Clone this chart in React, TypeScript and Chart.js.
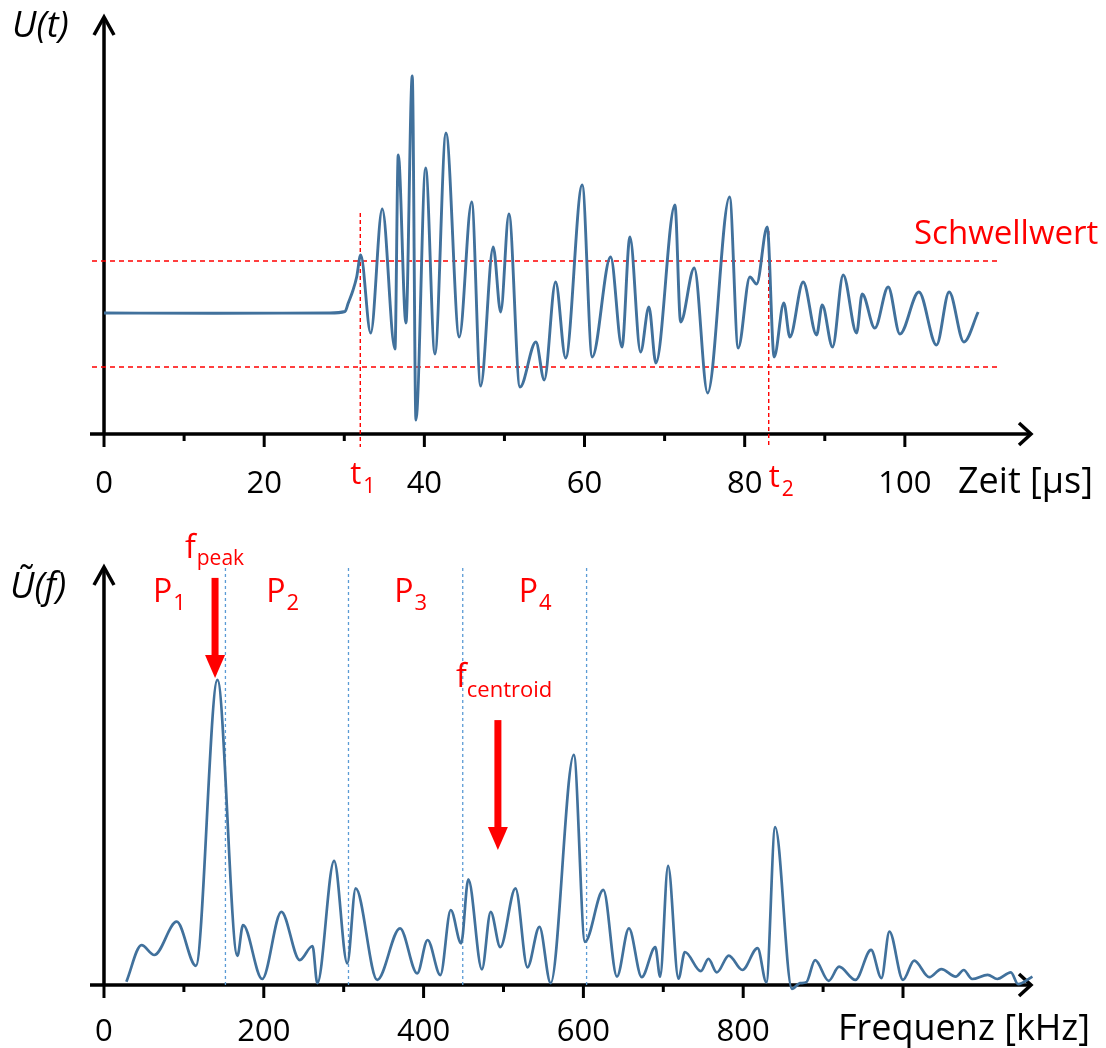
import { useEffect, useRef } from 'react';
import { Chart, registerables } from 'chart.js';

Chart.register(...registerables);

const FONT = '"Open Sans", "Noto Sans", "DejaVu Sans", sans-serif';
const BLUE = '#41719C';
const RED = '#FF0000';
const LIGHT_BLUE = '#5B9BD5';

// ---------- Top panel: time signal U(t) ----------
const timeUs = [
  0, 14, 28.2, 30.09, 30.5, 31.1, 31.55,
  32.05, 33.3, 34.74, 36.33, 36.74, 37.7, 38.49, 38.95,
  40.16, 41.32, 42.7, 44.36, 45.91, 47.03, 48.6, 49.53,
  50.56, 51.94, 53.93, 54.97, 56.39, 57.64, 59.71, 60.96,
  63.26, 64.67, 65.67, 67.0, 68.04, 68.91, 71.29, 72.0,
  73.7, 75.37, 78.11, 79.19, 80.65, 81.49, 82.81, 83.68,
  84.89, 85.64, 87.3, 88.98, 89.68, 90.97, 92.3, 93.97,
  94.67, 96.25, 97.92, 99.38, 101.75, 103.95, 105.53, 107.37, 109.15,
];
const signalU = [
  0.1, 0.08, 0.1, 0.25, 1.1, 2.4, 3.7,
  5.9, -1.9, 10.5, -3.5, 15.9, -0.9, 23.8, -10.6,
  14.6, -4.0, 18.1, -2.3, 11.2, -7.2, 6.7, 0.2,
  10.0, -7.3, -2.8, -6.6, 3.2, -4.4, 12.9, -4.3,
  5.7, -3.3, 7.7, -3.8, 0.7, -4.9, 10.9, -0.8,
  4.6, -7.9, 11.7, -3.4, 3.7, 3.0, 8.7, -4.3,
  1.1, -2.3, 3.2, -2.1, 0.9, -3.3, 3.9, -1.9,
  2.0, -1.4, 2.7, -2.0, 2.2, -3.1, 2.2, -2.8, 0.2,
];
const thresholdU = 5.3;
const thresholdSpanUs = [-1.5, 111.6];
const markerTimesUs = [32, 83];          // t1, t2
const markerTopsU = [10.1, 8.3];
const markerBottomU = -13.3;
const markerNames = ['1', '2'];
const timeMajorTicks = [0, 20, 40, 60, 80, 100];
const timeMinorTicks = [10, 30, 50, 70, 90];
const timeRange = [-1.75, 116.0];
const signalRange = [-12, 29.9];

// ---------- Bottom panel: spectrum Ũ(f) ----------
const freqKHz = [
  28, 47, 63, 91, 115, 142, 167, 174, 198, 222,
  245, 261, 267, 288, 304.5, 315, 342, 370.5, 392, 405,
  421, 434, 447, 456, 473, 484, 496, 515, 530, 545,
  559, 588, 602, 625, 642, 657, 673, 690, 696, 706,
  719, 727, 747, 756.5, 767, 782, 799, 818, 829, 840,
  861, 871, 879, 890, 907, 920, 940.5, 960, 973, 983,
  1000, 1014, 1033, 1048, 1066, 1076, 1086.5, 1106, 1118, 1135,
  1144, 1162,
];
const spectrumU = [
  1.1, 13.3, 10, 21.1, 6.4, 101.7, 9.7, 20, 2, 24.4,
  8.3, 13, 0.6, 41.4, 7.2, 32.2, 1.7, 18.9, 3.9, 15,
  3.3, 25, 13.9, 35.2, 5.2, 24.4, 12.6, 32.2, 5.9, 19.4,
  0.6, 76.7, 14.4, 31.7, 2.8, 18.9, 2.6, 12.6, 2.8, 39.7,
  2.1, 11, 4.6, 8.7, 4.2, 9.8, 5, 12.3, 0.9, 52.6,
  -1.3, 0.6, 0.9, 8.3, 1.4, 6.1, 1.7, 11.7, 2.3, 17.8,
  1.7, 8.1, 2.6, 5.3, 2.8, 5, 2, 3.4, 2, 4.2,
  0.3, 2.8,
];
const bandEdgesKHz = [152, 306, 449, 604];
const bandEdgeTopU = 139;
const bandLabelKHz = [80, 222, 382, 538];
const bandNames = ['1', '2', '3', '4'];
const peakArrow = { f: 139, from: 135.7, to: 102.3 };
const centroidArrow = { f: 493, from: 88.3, to: 45 };
const freqMajorTicks = [0, 200, 400, 600, 800, 1000];
const freqTickLabels = ['0', '200', '400', '600', '800', ''];
const freqMinorTicks = [100, 300, 500, 700, 900];
const freqRange = [-17.5, 1162.7];
const spectrumRange = [0, 140];

const W = 1106;

function pts(xs: number[], ys: number[]) {
  return xs.map((x, i) => ({ x, y: ys[i] }));
}

function lineDs(data: any[], color: string, width: number, dash: number[] = [], extra: any = {}) {
  return {
    data,
    borderColor: color,
    backgroundColor: color,
    borderWidth: width,
    borderDash: dash,
    pointRadius: 0,
    pointHoverRadius: 0,
    fill: false,
    clip: false,
    tension: 0,
    ...extra,
  };
}

function textSub(
  ctx: CanvasRenderingContext2D, main: string, sub: string, x: number, y: number,
  mainPx: number, subPx: number, drop: number, gap: number, color: string,
) {
  ctx.save();
  ctx.fillStyle = color;
  ctx.textAlign = 'left';
  ctx.textBaseline = 'alphabetic';
  ctx.font = `${mainPx}px ${FONT}`;
  ctx.fillText(main, x, y);
  const w = ctx.measureText(main).width;
  ctx.font = `${subPx}px ${FONT}`;
  ctx.fillText(sub, x + w + gap, y + drop);
  ctx.restore();
}

function drawAxes(chart: any, major: number[], labels: string[], minor: number[], labelDrop: number) {
  const { ctx, chartArea: a, scales } = chart;
  const sx = scales.x;
  const x0 = sx.getPixelForValue(0);
  const yb = a.bottom;
  ctx.save();
  ctx.strokeStyle = '#000';
  ctx.fillStyle = '#000';
  ctx.lineWidth = 3.5;
  ctx.lineCap = 'butt';
  ctx.lineJoin = 'miter';
  // y axis
  ctx.beginPath();
  ctx.moveTo(x0, yb);
  ctx.lineTo(x0, a.top + 2);
  ctx.stroke();
  ctx.beginPath();
  ctx.moveTo(x0 - 10, a.top + 20);
  ctx.lineTo(x0, a.top + 2);
  ctx.lineTo(x0 + 10, a.top + 20);
  ctx.stroke();
  // x axis
  ctx.beginPath();
  ctx.moveTo(a.left, yb);
  ctx.lineTo(a.right - 2, yb);
  ctx.stroke();
  ctx.beginPath();
  ctx.moveTo(a.right - 14, yb - 11);
  ctx.lineTo(a.right - 2, yb);
  ctx.lineTo(a.right - 14, yb + 11);
  ctx.stroke();
  // ticks
  ctx.lineWidth = 3;
  major.forEach((v) => {
    const px = sx.getPixelForValue(v);
    ctx.beginPath();
    ctx.moveTo(px, yb);
    ctx.lineTo(px, yb + 13);
    ctx.stroke();
  });
  minor.forEach((v) => {
    const px = sx.getPixelForValue(v);
    ctx.beginPath();
    ctx.moveTo(px, yb);
    ctx.lineTo(px, yb + 7);
    ctx.stroke();
  });
  // tick labels
  ctx.font = `31px ${FONT}`;
  ctx.textAlign = 'center';
  ctx.textBaseline = 'alphabetic';
  major.forEach((v, i) => {
    const t = labels[i];
    if (t) ctx.fillText(t, sx.getPixelForValue(v), yb + labelDrop);
  });
  ctx.restore();
}

function drawArrow(ctx: CanvasRenderingContext2D, x: number, yTop: number, yTip: number) {
  ctx.save();
  ctx.fillStyle = RED;
  ctx.fillRect(x - 3.5, yTop, 7, yTip - yTop - 20);
  ctx.beginPath();
  ctx.moveTo(x - 10, yTip - 23);
  ctx.lineTo(x + 10, yTip - 23);
  ctx.lineTo(x, yTip);
  ctx.closePath();
  ctx.fill();
  ctx.restore();
}

function buildTop(canvas: HTMLCanvasElement) {
  const datasets: any[] = [
    lineDs(pts(timeUs, signalU), BLUE, 2.9, [], { cubicInterpolationMode: 'monotone' }),
    lineDs(pts(thresholdSpanUs, [thresholdU, thresholdU]), RED, 1.4, [5, 4]),
    lineDs(pts(thresholdSpanUs, [-thresholdU, -thresholdU]), RED, 1.4, [5, 4]),
  ];
  markerTimesUs.forEach((t, i) => {
    datasets.push(lineDs(pts([t, t], [markerTopsU[i], markerBottomU]), RED, 1.4, [4, 3]));
  });
  const plugin = {
    id: 'topDecor',
    beforeDatasetsDraw(chart: any) {
      drawAxes(chart, timeMajorTicks, timeMajorTicks.map(String), timeMinorTicks, 59);
    },
    afterDatasetsDraw(chart: any) {
      const { ctx, chartArea: a, scales } = chart;
      ctx.save();
      ctx.fillStyle = '#000';
      ctx.textBaseline = 'alphabetic';
      ctx.textAlign = 'left';
      ctx.font = `36px ${FONT}`;
      ctx.fillText('Zeit [µs]', 958, a.bottom + 59);
      ctx.font = `italic 36px ${FONT}`;
      ctx.fillText('U(t)', 12, 37);
      ctx.fillStyle = RED;
      ctx.font = `33px ${FONT}`;
      ctx.fillText('Schwellwert', 914, 244);
      ctx.restore();
      markerTimesUs.forEach((t, i) => {
        const px = scales.x.getPixelForValue(t);
        const x = i === 0 ? px - 10 : px;
        textSub(ctx, 't', markerNames[i], x, a.bottom + 50 + i * 3, 31, 21, 9, 2, RED);
      });
    },
  };
  return new Chart(canvas, {
    type: 'line',
    data: { datasets },
    options: {
      responsive: false,
      animation: false,
      devicePixelRatio: 1,
      events: [],
      layout: { padding: { left: 90, right: W - 1033, top: 15, bottom: 520 - 434 } },
      plugins: { legend: { display: false }, tooltip: { enabled: false } },
      scales: {
        x: { type: 'linear', min: timeRange[0], max: timeRange[1], display: false },
        y: { type: 'linear', min: signalRange[0], max: signalRange[1], display: false },
      },
    },
    plugins: [plugin],
  } as any);
}

function buildBottom(canvas: HTMLCanvasElement) {
  const datasets: any[] = [
    lineDs(pts(freqKHz, spectrumU), BLUE, 2.7, [], { cubicInterpolationMode: 'monotone' }),
  ];
  bandEdgesKHz.forEach((f) => {
    datasets.push(lineDs(pts([f, f], [bandEdgeTopU, 0]), LIGHT_BLUE, 1.3, [3, 3]));
  });
  const plugin = {
    id: 'bottomDecor',
    beforeDatasetsDraw(chart: any) {
      drawAxes(chart, freqMajorTicks, freqTickLabels, freqMinorTicks, 56);
    },
    afterDatasetsDraw(chart: any) {
      const { ctx, chartArea: a, scales } = chart;
      const sx = scales.x;
      const sy = scales.y;
      ctx.save();
      ctx.fillStyle = '#000';
      ctx.textBaseline = 'alphabetic';
      ctx.textAlign = 'left';
      ctx.font = `36px ${FONT}`;
      ctx.fillText('Frequenz [kHz]', 838, a.bottom + 55);
      ctx.font = `italic 36px ${FONT}`;
      ctx.fillText('Ũ(f)', 10, 78);
      ctx.restore();
      bandLabelKHz.forEach((f, i) => {
        textSub(ctx, 'P', bandNames[i], sx.getPixelForValue(f) - 15, 82, 32, 22, 8, 1, RED);
      });
      textSub(ctx, 'f', 'peak', 185, 38, 32, 21, 7, 1, RED);
      textSub(ctx, 'f', 'centroid', 456, 167, 32, 22, 10, 0, RED);
      drawArrow(ctx, sx.getPixelForValue(peakArrow.f), sy.getPixelForValue(peakArrow.from), sy.getPixelForValue(peakArrow.to));
      drawArrow(ctx, sx.getPixelForValue(centroidArrow.f), sy.getPixelForValue(centroidArrow.from), sy.getPixelForValue(centroidArrow.to));
    },
  };
  return new Chart(canvas, {
    type: 'line',
    data: { datasets },
    options: {
      responsive: false,
      animation: false,
      devicePixelRatio: 1,
      events: [],
      layout: { padding: { left: 90, right: W - 1033, top: 45, bottom: 528 - 465 } },
      plugins: { legend: { display: false }, tooltip: { enabled: false } },
      scales: {
        x: { type: 'linear', min: freqRange[0], max: freqRange[1], display: false },
        y: { type: 'linear', min: spectrumRange[0], max: spectrumRange[1], display: false },
      },
    },
    plugins: [plugin],
  } as any);
}

function ChartCanvas({ top, height, build }: { top: number; height: number; build: (c: HTMLCanvasElement) => Chart }) {
  const ref = useRef<HTMLCanvasElement>(null);
  useEffect(() => {
    if (!ref.current) return;
    const chart = build(ref.current);
    return () => chart.destroy();
  }, [build]);
  return (
    <canvas
      ref={ref}
      width={W}
      height={height}
      style={{ position: 'absolute', left: 0, top, width: W, height, display: 'block' }}
    />
  );
}

export default function App() {
  return (
    <div style={{ position: 'absolute', left: 0, top: 0, width: W, height: 1048, background: '#fff', overflow: 'hidden' }}>
      <ChartCanvas top={0} height={520} build={buildTop} />
      <ChartCanvas top={520} height={528} build={buildBottom} />
    </div>
  );
}
